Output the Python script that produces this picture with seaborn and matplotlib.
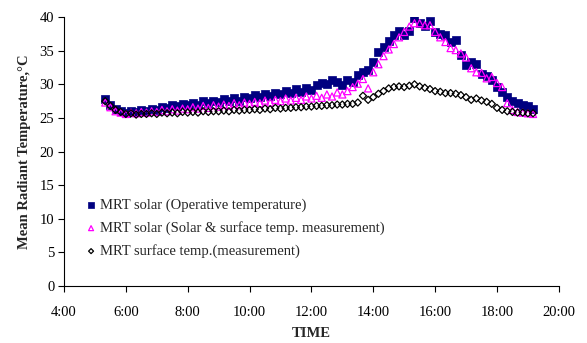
import numpy as np
import pandas as pd
import matplotlib
matplotlib.use("Agg")
import matplotlib.pyplot as plt
import seaborn as sns

# Sampling times: every 10 minutes from 5:20 to 19:10 (in decimal hours)
time_h = [5 + 20 / 60 + 10 * i / 60 for i in range(84)]

mrt_operative = [
    27.8, 26.9, 26.3, 26.0,
    25.8, 26.1, 25.9, 26.2, 26.0, 26.4,
    26.2, 26.7, 26.5, 27.0, 26.8, 27.1,
    26.9, 27.3, 27.0, 27.5, 27.2, 27.6,
    27.4, 27.8, 27.5, 27.9, 27.6, 28.1,
    27.9, 28.4, 28.1, 28.6, 28.3, 28.7,
    28.5, 29.0, 28.7, 29.3, 28.9, 29.4,
    29.2, 29.9, 30.2, 30.0, 30.6, 30.3,
    29.9, 30.7, 30.3, 31.4, 31.8, 32.1,
    33.3, 34.8, 35.5, 36.4, 37.3, 38.0,
    37.3, 38.0, 39.8, 39.2, 38.7, 39.5,
    37.8, 37.5, 37.3, 36.3, 36.6, 34.3,
    32.9, 33.3, 33.0, 31.6, 31.2, 30.7,
    29.6, 28.8, 28.1, 27.6, 27.3, 27.0,
    26.8, 26.3,
]

mrt_solar_surface = [
    27.3, 26.6, 26.0, 25.8,
    25.6, 25.8, 25.7, 25.9, 25.8, 26.0,
    25.9, 26.2, 26.0, 26.3, 26.1, 26.4,
    26.3, 26.6, 26.4, 26.8, 26.5, 26.9,
    26.7, 27.0, 26.8, 27.2, 26.9, 27.3,
    27.1, 27.4, 27.2, 27.6, 27.3, 27.7,
    27.5, 27.9, 27.6, 28.0, 27.7, 28.2,
    27.9, 28.3, 28.0, 28.5, 28.2, 28.8,
    28.5, 29.0, 29.6, 30.1, 30.8, 29.4,
    31.8, 33.0, 34.2, 35.2, 36.0, 37.0,
    37.8, 38.6, 39.1, 39.1, 38.8, 38.8,
    37.8, 37.0, 36.3, 35.4, 35.1, 34.6,
    34.0, 32.4, 31.8, 31.7, 30.9, 31.1,
    30.2, 29.6, 27.2, 26.2, 25.9, 25.8,
    25.7, 25.6,
]

mrt_surface = [
    27.5, 26.8, 26.2, 25.9,
    25.6, 25.7, 25.5, 25.6, 25.6, 25.7,
    25.6, 25.8, 25.7, 25.8, 25.7, 25.9,
    25.8, 25.9, 25.8, 26.0, 25.9, 26.0,
    26.0, 26.1, 26.0, 26.2, 26.1, 26.2,
    26.2, 26.3, 26.2, 26.4, 26.3, 26.5,
    26.4, 26.5, 26.5, 26.6, 26.6, 26.7,
    26.7, 26.8, 26.8, 26.9, 26.9, 27.0,
    27.0, 27.1, 27.1, 27.3, 28.3, 27.7,
    28.1, 28.6, 29.0, 29.4, 29.6, 29.7,
    29.6, 29.8, 30.0, 29.7, 29.5, 29.3,
    29.0, 28.9, 28.7, 28.7, 28.6, 28.4,
    28.1, 27.7, 27.9, 27.6, 27.4, 27.1,
    26.5, 26.2, 26.0, 25.9, 25.8, 25.8,
    25.7, 25.7,
]

series_labels = [
    "MRT solar (Operative temperature)",
    "MRT solar (Solar & surface temp. measurement)",
    "MRT surface temp.(measurement)",
]

x_ticks = [4, 6, 8, 10, 12, 14, 16, 18, 20]
x_tick_labels = [f"{h}:00" for h in x_ticks]
y_ticks = [0, 5, 10, 15, 20, 25, 30, 35, 40]

sns.set_style("ticks")
plt.rcParams["font.family"] = ["Liberation Serif", "DejaVu Serif"]

df = pd.DataFrame({
    "time": time_h * 3,
    "mrt": mrt_operative + mrt_solar_surface + mrt_surface,
    "series": [series_labels[0]] * 84 + [series_labels[1]] * 84 + [series_labels[2]] * 84,
})

fig = plt.figure(figsize=(5.87, 3.43), dpi=100)
ax = fig.add_axes([0.109, 0.166, 0.843, 0.784])

sns.scatterplot(data=df[df.series == series_labels[0]], x="time", y="mrt", ax=ax,
                marker="s", s=30, color="#000080", edgecolor="#000080", linewidth=0.5,
                label=series_labels[0], zorder=3)
sns.scatterplot(data=df[df.series == series_labels[1]], x="time", y="mrt", ax=ax,
                marker="^", s=26, facecolor="none", edgecolor="#FF00FF", linewidth=0.9,
                label=series_labels[1], zorder=4)
sns.scatterplot(data=df[df.series == series_labels[2]], x="time", y="mrt", ax=ax,
                marker="D", s=13, facecolor="none", edgecolor="black", linewidth=0.9,
                label=series_labels[2], zorder=5)

ax.set_xlim(4, 20)
ax.set_ylim(0, 40)
ax.set_xticks(x_ticks)
ax.set_xticklabels(x_tick_labels)
ax.set_yticks(y_ticks)
ax.tick_params(axis="both", direction="out", length=4, width=0.8, colors="black",
               labelsize=10.5, pad=10)
ax.tick_params(axis="y", pad=3)
for side in ("top", "right"):
    ax.spines[side].set_visible(False)
for side in ("left", "bottom"):
    ax.spines[side].set_color("black")
    ax.spines[side].set_linewidth(0.8)

ax.set_xlabel("TIME", fontsize=10.5, fontweight="bold", labelpad=6)
ax.set_ylabel("Mean Radiant Temperature,°C", fontsize=10.5, fontweight="bold", labelpad=6)

leg = ax.legend(loc="upper left", bbox_to_anchor=(0.04, 0.325), frameon=False,
                fontsize=10.5, handletextpad=0.1, labelspacing=0.62, borderaxespad=0,
                borderpad=0, handlelength=1.0, markerscale=0.7)

fig.savefig("out.png", dpi=100)
